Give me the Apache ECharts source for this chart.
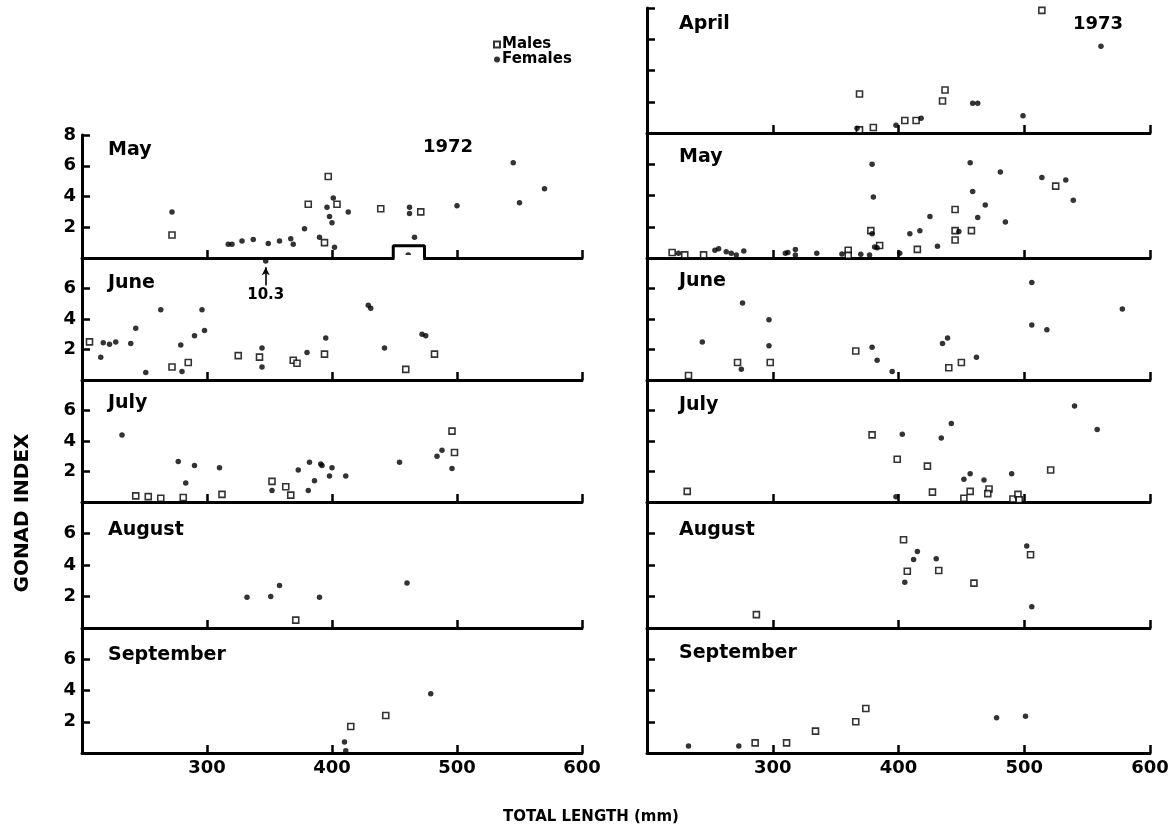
<!DOCTYPE html>
<html>
<head>
<meta charset="utf-8">
<title>Gonad index vs total length, 1972-1973</title>
<script src="https://cdn.jsdelivr.net/npm/echarts/dist/echarts.min.js"></script>
<style>
  html, body { margin: 0; padding: 0; background: #fff; }
  #main { width: 1176px; height: 831px; }
</style>
</head>
<body>
<div id="main"></div>
<script>
// panel names and axis labels
var months1972 = ['May', 'June', 'July', 'August', 'September'];
var months1973 = ['April', 'May', 'June', 'July', 'August', 'September'];
var years = ['1972', '1973'];
var xTicks = [300, 400, 500, 600];

// [total length mm, gonad index]  M = males (open squares), F = females (dots)
// 1972
var may72M = [[272,1.5],[381,3.5],[394,1.0],[397,5.3],[404,3.5],[439,3.2],[471,3.0]];
var may72F = [[272,3.0],[317,0.9],[320,0.9],[328,1.1],[337,1.2],[349,0.95],[358,1.1],[367,1.25],[369,0.9],
  [378,1.9],[390,1.35],[396,3.3],[398,2.7],[400,2.3],[401,3.9],[402,0.7],[413,3.0],[461,0.2],[462,3.3],
  [462,2.9],[466,1.35],[500,3.4],[545,6.2],[550,3.6],[570,4.5]];
var jun72M = [[206,2.5],[272,0.85],[285,1.15],[325,1.6],[342,1.5],[369,1.3],[372,1.1],[394,1.7],[459,0.7],[482,1.7]];
var jun72F = [[215,1.5],[217,2.45],[222,2.35],[227,2.5],[239,2.4],[243,3.4],[251,0.5],[263,4.6],[279,2.3],
  [280,0.55],[290,2.9],[296,4.6],[298,3.25],[344,2.1],[344,0.85],[380,1.8],[395,2.75],[429,4.9],[431,4.7],
  [442,2.1],[472,3.0],[475,2.9]];
var jun72Off = [[347,7.8]];      // drawn at top of panel, true value below
var jun72OffValue = '10.3';
var jul72M = [[243,0.4],[253,0.35],[263,0.25],[281,0.3],[312,0.5],[352,1.35],[363,1.0],[367,0.45],[496,4.65],[498,3.25]];
var jul72F = [[232,4.4],[277,2.65],[283,1.25],[290,2.4],[310,2.25],[352,0.75],[373,2.1],[382,2.6],[381,0.75],
  [386,1.4],[391,2.5],[392,2.4],[400,2.25],[398,1.7],[411,1.7],[454,2.6],[484,3.0],[488,3.4],[496,2.2]];
var aug72M = [[371,0.5]];
var aug72F = [[332,1.95],[351,2.0],[358,2.7],[390,1.95],[460,2.85]];
var sep72M = [[415,1.7],[443,2.4]];
var sep72F = [[410,0.7],[411,0.15],[479,3.8]];
// raised notch on the May 1972 baseline
var may72Notch = [[449,0],[449,0.8],[474,0.8],[474,0]];
var may72NotchGap = [[450,0],[473,0]];

// 1973
var apr73M = [[369,0.2],[369,2.5],[380,0.35],[405,0.8],[414,0.8],[435,2.05],[437,2.75],[514,7.85]];
var apr73F = [[367,0.3],[398,0.5],[418,0.95],[459,1.9],[463,1.9],[499,1.1],[561,5.55]];
var may73M = [[220,0.35],[230,0.2],[245,0.2],[360,0.5],[360,0.17],[378,1.75],[385,0.8],[415,0.55],
  [445,3.1],[445,1.75],[445,1.15],[458,1.75],[525,4.6]];
var may73F = [[225,0.3],[254,0.5],[257,0.6],[263,0.4],[267,0.3],[271,0.2],[277,0.45],[310,0.3],[312,0.35],
  [318,0.55],[318,0.2],[335,0.3],[355,0.25],[370,0.24],[377,0.2],[379,1.55],[381,0.7],[383,0.65],[379,6.0],
  [380,3.9],[401,0.3],[409,1.55],[417,1.75],[425,2.65],[431,0.75],[448,1.7],[457,6.1],[459,4.25],[469,3.4],
  [463,2.6],[481,5.5],[485,2.3],[514,5.15],[533,5.0],[539,3.7]];
var jun73M = [[233,0.3],[272,1.15],[298,1.15],[366,1.9],[440,0.8],[450,1.15]];
var jun73F = [[244,2.5],[275,0.7],[276,5.05],[297,3.95],[297,2.25],[379,2.15],[383,1.3],[395,0.55],
  [435,2.4],[439,2.75],[462,1.5],[506,6.4],[506,3.6],[518,3.3],[578,4.65]];
var jul73M = [[232,0.7],[379,4.4],[399,2.8],[423,2.35],[427,0.65],[452,0.25],[457,0.7],[472,0.85],[471,0.55],
  [491,0.2],[495,0.5],[496,0.15],[521,2.1]];
var jul73F = [[398,0.35],[403,4.45],[434,4.2],[442,5.15],[452,1.5],[457,1.85],[468,1.45],[490,1.85],[540,6.3],[558,4.75]];
var aug73M = [[287,0.85],[404,5.6],[407,3.6],[432,3.65],[460,2.85],[505,4.65]];
var aug73F = [[405,2.9],[412,4.35],[415,4.85],[430,4.4],[502,5.2],[506,1.35]];
var sep73M = [[286,0.65],[311,0.65],[334,1.4],[366,2.0],[374,2.85]];
var sep73F = [[233,0.45],[273,0.45],[478,2.25],[501,2.35]];

var FONT = 'DejaVu Sans';
var myChart = echarts.init(document.getElementById('main'));

// layout of the eleven panels (pixels)
var colLeft = [82, 647];
var colWidth = [500, 503];
var panels = [
  { col: 0, top: 135, bottom: 258, labelY: 150, m: may72M, f: may72F, first: true },
  { col: 0, top: 258, bottom: 380, labelY: 283, m: jun72M, f: jun72F },
  { col: 0, top: 380, bottom: 502, labelY: 403, m: jul72M, f: jul72F },
  { col: 0, top: 502, bottom: 628, labelY: 530, m: aug72M, f: aug72F },
  { col: 0, top: 628, bottom: 753, labelY: 655, m: sep72M, f: sep72F, last: true },
  { col: 1, top: 8,   bottom: 133, labelY: 24,  m: apr73M, f: apr73F, first: true },
  { col: 1, top: 133, bottom: 258, labelY: 157, m: may73M, f: may73F },
  { col: 1, top: 258, bottom: 380, labelY: 281, m: jun73M, f: jun73F },
  { col: 1, top: 380, bottom: 502, labelY: 405, m: jul73M, f: jul73F },
  { col: 1, top: 502, bottom: 628, labelY: 530, m: aug73M, f: aug73F },
  { col: 1, top: 628, bottom: 753, labelY: 653, m: sep73M, f: sep73F, last: true }
];
var names = months1972.concat(months1973);

var grids = [], xAxes = [], yAxes = [], series = [], graphics = [];

panels.forEach(function (p, i) {
  grids.push({ left: colLeft[p.col], width: colWidth[p.col], top: p.top, height: p.bottom - p.top });
  xAxes.push({
    type: 'value', gridIndex: i, min: 200, max: 600, interval: 100,
    axisLine: { show: true, onZero: false, lineStyle: { color: '#000', width: 3 } },
    axisTick: { show: true, inside: true, length: 8, lineStyle: { color: '#000', width: 2.5 } },
    axisLabel: {
      show: !!p.last, margin: 6, color: '#000', fontFamily: FONT, fontWeight: 'bold', fontSize: 18,
      formatter: function (v) { return xTicks.indexOf(v) >= 0 ? String(v) : ''; }
    },
    splitLine: { show: false }
  });
  yAxes.push({
    type: 'value', gridIndex: i, min: 0, max: 8, interval: 2,
    axisLine: { show: true, onZero: false, lineStyle: { color: '#000', width: 3 } },
    axisTick: { show: true, inside: true, length: 8, lineStyle: { color: '#000', width: 2.5 } },
    axisLabel: {
      show: p.col === 0, margin: 6, color: '#000', fontFamily: FONT, fontWeight: 'bold', fontSize: 18,
      formatter: function (v) {
        if (v === 0) return '';
        if (v === 8) return p.first ? '8' : '';
        return String(v);
      }
    },
    splitLine: { show: false }
  });
  series.push({
    name: 'Males', type: 'scatter', xAxisIndex: i, yAxisIndex: i, data: p.m,
    symbol: 'rect', symbolSize: 6,
    itemStyle: { color: '#fff', borderColor: '#000', borderWidth: 1.6 }
  });
  series.push({
    name: 'Females', type: 'scatter', xAxisIndex: i, yAxisIndex: i, data: p.f,
    symbol: 'circle', symbolSize: 5.5, itemStyle: { color: '#000' }
  });
  graphics.push({
    type: 'text', x: colLeft[p.col] + (p.col === 0 ? 26 : 32), y: p.labelY,
    style: { text: names[i], font: 'bold 19px "' + FONT + '"', fill: '#000', verticalAlign: 'middle' }
  });
});

// May 1972: notch in the baseline
series.push({
  type: 'line', xAxisIndex: 0, yAxisIndex: 0, data: may72NotchGap, symbol: 'none', clip: false, z: 3,
  lineStyle: { color: '#fff', width: 6 }, silent: true
});
series.push({
  type: 'line', xAxisIndex: 0, yAxisIndex: 0, data: may72Notch, symbol: 'none', clip: false, z: 4,
  lineStyle: { color: '#000', width: 3 }, silent: true
});
// June 1972: off-scale female with arrow and value
series.push({
  name: 'Females', type: 'scatter', xAxisIndex: 1, yAxisIndex: 1, data: jun72Off,
  symbol: 'circle', symbolSize: 5.5, itemStyle: { color: '#000' },
  markLine: {
    silent: true, symbol: ['none', 'arrow'], symbolSize: [6, 8], animation: false,
    lineStyle: { color: '#000', width: 1.6, type: 'solid' },
    label: {
      show: true, position: 'start', distance: 2, formatter: jun72OffValue,
      color: '#000', fontFamily: FONT, fontWeight: 'bold', fontSize: 15
    },
    data: [[{ coord: [jun72Off[0][0], 6.2] }, { coord: [jun72Off[0][0], 7.4] }]]
  }
});

graphics.push(
  { type: 'text', x: 448, y: 147, style: { text: years[0], font: 'bold 18px "' + FONT + '"', fill: '#000', align: 'center', verticalAlign: 'middle' } },
  { type: 'text', x: 1098, y: 24, style: { text: years[1], font: 'bold 18px "' + FONT + '"', fill: '#000', align: 'center', verticalAlign: 'middle' } },
  { type: 'text', x: 23, y: 513, rotation: Math.PI / 2,
    style: { text: 'GONAD INDEX', font: 'bold 20px "' + FONT + '"', fill: '#000', align: 'center', verticalAlign: 'middle' } },
  { type: 'text', x: 591, y: 817,
    style: { text: 'TOTAL LENGTH (mm)', font: 'bold 15px "' + FONT + '"', fill: '#000', align: 'center', verticalAlign: 'middle' } }
);

var option = {
  backgroundColor: '#fff',
  animation: false,
  legend: {
    left: 493, top: 37, orient: 'vertical', padding: 0, itemGap: 0,
    itemWidth: 6, itemHeight: 6, selectedMode: false,
    data: [{ name: 'Males', icon: 'rect' }, { name: 'Females', icon: 'circle' }],
    textStyle: { color: '#000', fontFamily: FONT, fontWeight: 'bold', fontSize: 15, lineHeight: 13, padding: [0, 0, 0, -3] }
  },
  grid: grids,
  xAxis: xAxes,
  yAxis: yAxes,
  series: series,
  graphic: graphics
};

myChart.setOption(option);
</script>
</body>
</html>
